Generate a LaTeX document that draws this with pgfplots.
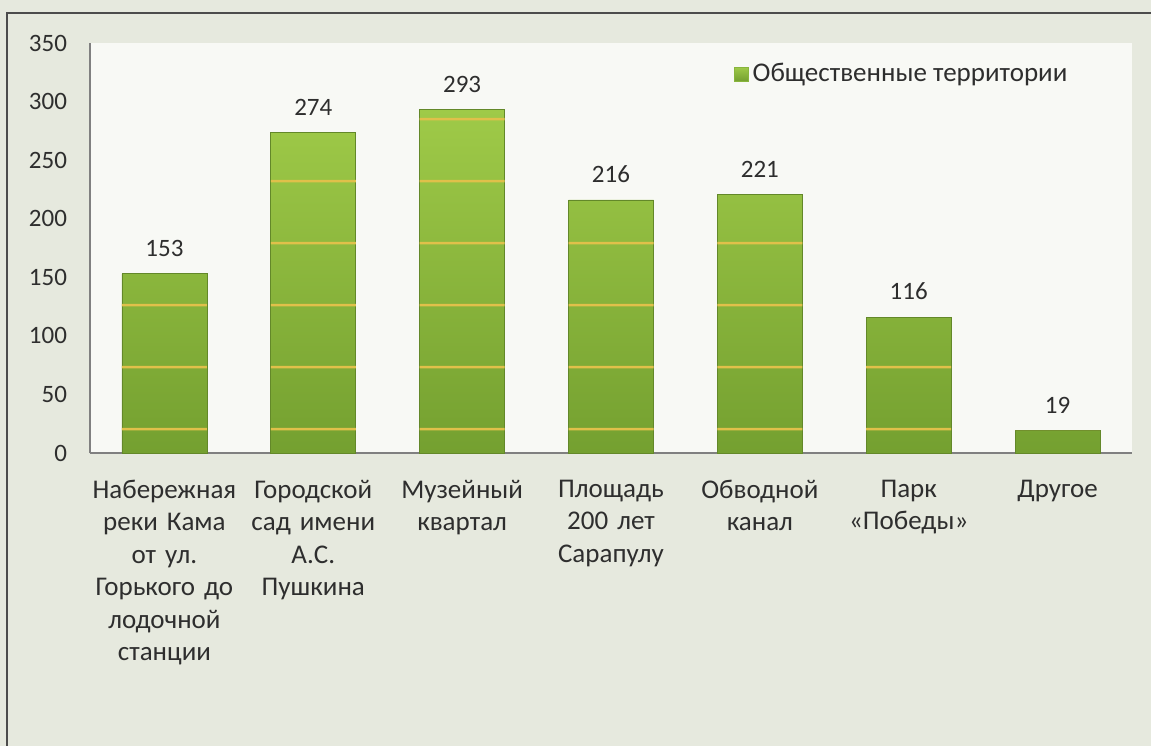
\documentclass[border=0pt]{standalone}
\usepackage{fontspec}
\setmainfont{Carlito}
\usepackage{pgfplots}
\pgfplotsset{compat=1.18}
\usetikzlibrary{patterns}
\definecolor{bg}{HTML}{E6E9DE}
\definecolor{plotbg}{HTML}{F8F9F5}
\definecolor{bartop}{HTML}{9FCA48}
\definecolor{barbot}{HTML}{74A030}
\definecolor{barmid}{HTML}{88B53C}
\definecolor{stripe}{HTML}{E0C04A}
\definecolor{txt}{HTML}{2E2E2E}
\pgfdeclarepatternformonly{barstripes}{\pgfqpoint{0pt}{0pt}}{\pgfqpoint{10pt}{30.75pt}}{\pgfqpoint{10pt}{30.75pt}}{%
  \pgfpathrectangle{\pgfqpoint{-1pt}{3.9pt}}{\pgfqpoint{12pt}{1.2pt}}\pgfusepath{fill}}
\begin{document}
\begin{tikzpicture}
\fill[bg] (-2pt,-2pt) rectangle (578pt,375pt);
\draw[gray!60!black, line width=0.6pt] (3.5pt,-2pt) -- (3.5pt,366pt) -- (578pt,366pt);
\begin{axis}[
  at={(45pt,146pt)}, anchor=south west,
  scale only axis, width=521pt, height=205pt,
  xmin=-0.5, xmax=6.5, ymin=0, ymax=350,
  axis background/.style={fill=plotbg},
  axis lines*=left,
  axis line style={gray, line width=0.6pt},
  ytick={0,50,...,350},
  xtick={0,...,6},
  xticklabels={{Набережная\\реки Кама\\от ул.\\Горького до\\лодочной\\станции},
    {Городской\\сад имени\\А.С.\\Пушкина},
    {Музейный\\квартал},
    {Площадь\\200 лет\\Сарапулу},
    {Обводной\\канал},
    {Парк\\«Победы»},
    {Другое}},
  major tick length=0pt,
  /pgf/number format/assume math mode=true,
  x tick label style={align=center, text width=90pt, font=\fontsize{13.5}{16.25}\selectfont, text=txt, yshift=-10pt},
  y tick label style={font=\fontsize{12.5}{14}\selectfont, text=txt, xshift=-8pt},
  ybar, bar width=42.5pt, bar shift=0pt,
  legend style={at={(0.612,0.924)}, anchor=west, draw=none, fill=none, font=\fontsize{13.5}{15}\selectfont, text=txt},
  legend image code/.code={\fill[barmid] (0pt,-3.5pt) rectangle (7pt,3.5pt);},
]
\addplot[draw=barbot!85!black, line width=0.3pt, top color=bartop, bottom color=barbot,
  nodes near coords,
  every node near coord/.append style={font=\fontsize{12.5}{14}\selectfont, text=txt, yshift=5pt}]
  coordinates {(0,153) (1,274) (2,293) (3,216) (4,221) (5,116) (6,19)};
\addlegendentry{Общественные территории}
\addplot[forget plot, draw=none, pattern=barstripes, pattern color=stripe]
  coordinates {(0,153) (1,274) (2,293) (3,216) (4,221) (5,116) (6,19)};
\end{axis}
\pgfresetboundingbox
\useasboundingbox (0,0) rectangle (575.5pt,372.5pt);
\end{tikzpicture}
\end{document}
